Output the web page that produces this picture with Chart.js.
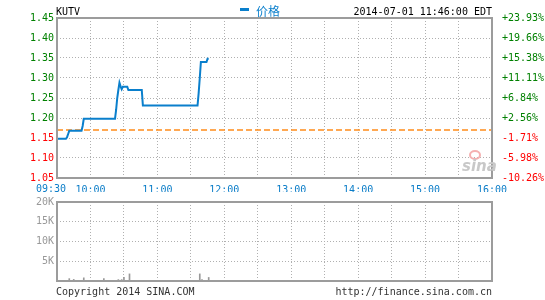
<!DOCTYPE html>
<html>
<head>
<meta charset="utf-8">
<script src="https://cdn.jsdelivr.net/npm/chart.js"></script>
<style>
  body { margin: 0; background: #fff; width: 545px; height: 300px; overflow: hidden; position: relative;
         font-family: "DejaVu Sans Mono", monospace; font-size: 10px; }
  canvas { position: absolute; left: 0; }
  .txt { position: absolute; white-space: nowrap; line-height: 12px; }
</style>
</head>
<body>
<canvas id="priceChart" width="545" height="192" style="top:0"></canvas>
<canvas id="volChart" width="545" height="100" style="top:190px"></canvas>

<div class="txt" style="left:56px;top:6px;color:#000">KUTV</div>
<div style="position:absolute;left:240px;top:8px;width:9px;height:3px;background:#0a7fcc"></div>
<div class="txt" style="left:256px;top:4px;color:#0a7fcc;font:12px 'Noto Sans CJK SC';line-height:14px">价格</div>
<div class="txt" style="right:53px;top:6px;color:#000">2014-07-01 11:46:00 EDT</div>
<div class="txt" style="left:36px;top:183px;color:#0b7dc8">09:30</div>
<div class="txt" style="left:56px;top:286px;color:#333">Copyright 2014 SINA.COM</div>
<div class="txt" style="right:53px;top:286px;color:#333">http://finance.sina.com.cn</div>
<div style="position:absolute;left:469px;top:150px;width:8px;height:6px;border-radius:50%;border:2px solid #f5b0b0"></div>
<div class="txt" style="left:462px;top:158px;color:#c8c8c8;font:italic bold 15px 'DejaVu Sans';line-height:16px">sina</div>

<script>
// minutes after 09:30 and price
const priceTimes = [0, 8, 9, 10, 11, 22, 23, 24, 52, 53, 54, 55, 56, 57, 58, 59, 63, 64, 76, 77, 126, 127, 128, 129, 134, 135, 136];
const priceValues = [1.148, 1.148, 1.152, 1.16, 1.168, 1.168, 1.18, 1.198, 1.198, 1.22, 1.25, 1.27, 1.288, 1.279, 1.272, 1.278, 1.278, 1.27, 1.27, 1.231, 1.231, 1.262, 1.30, 1.34, 1.34, 1.348, 1.348];
const prevClose = 1.17;

const volTimes = [0, 11, 15, 24, 42, 55, 58, 60, 65, 128, 130, 136];
const volValues = [11000, 600, 400, 800, 600, 350, 350, 900, 1800, 1800, 350, 900];

const priceTicks = [1.05, 1.10, 1.15, 1.20, 1.25, 1.30, 1.35, 1.40, 1.45];
const priceLabels = ['1.05', '1.10', '1.15', '1.20', '1.25', '1.30', '1.35', '1.40', '1.45'];
const pctLabels = ['-10.26%', '-5.98%', '-1.71%', '+2.56%', '+6.84%', '+11.11%', '+15.38%', '+19.66%', '+23.93%'];
const timeTicks = [0, 30, 60, 90, 120, 150, 180, 210, 240, 270, 300, 330, 360, 390];
const timeLabels = ['', '10:00', '', '11:00', '', '12:00', '', '13:00', '', '14:00', '', '15:00', '', '16:00'];
const volTicks = [0, 5000, 10000, 15000, 20000];
const volLabels = ['', '5K', '10K', '15K', '20K'];

const mono = { family: 'DejaVu Sans Mono', size: 10 };
const gridOpts = { color: '#b0b0b0', lineWidth: 1, drawTicks: false, offset: false };
const borderOpts = { display: false, dash: [1, 2] };

const frame = {
    id: 'frame',
    afterDraw(chart) {
        const a = chart.chartArea, c = chart.ctx;
        c.save();
        c.strokeStyle = '#9c9c9c';
        c.lineWidth = 2;
        c.strokeRect(a.left, a.top, a.right - a.left, a.bottom - a.top);
        c.restore();
    }
};

const timeAxis = (showLabels, h) => ({
    type: 'linear', min: 0, max: 390, offset: false,
    afterBuildTicks: s => { s.ticks = timeTicks.map(v => ({ value: v })); },
    afterFit: s => { s.height = h; },
    grid: gridOpts, border: borderOpts,
    ticks: {
        display: showLabels, autoSkip: false, maxRotation: 0, padding: 6,
        color: '#0b7dc8', font: mono,
        callback: (v, i) => timeLabels[i]
    }
});

const upDown = ctx => ctx.tick && ctx.tick.value > prevClose ? '#008000' : '#ff0000';

new Chart(document.getElementById('priceChart'), {
    type: 'line',
    data: {
        datasets: [{
            data: priceTimes.map((t, i) => ({ x: t, y: priceValues[i] })),
            borderColor: '#0a7fcc', borderWidth: 2, pointRadius: 0, tension: 0, yAxisID: 'y'
        }, {
            data: [{ x: 0, y: prevClose }, { x: 390, y: prevClose }],
            borderColor: '#ff8c1a', borderWidth: 1.5, borderDash: [6, 3], pointRadius: 0, yAxisID: 'y'
        }]
    },
    options: {
        responsive: false, animation: false,
        layout: { padding: { top: 18, left: 0, right: 0, bottom: 0 } },
        plugins: { legend: { display: false }, tooltip: { enabled: false } },
        scales: {
            x: timeAxis(true, 14),
            y: {
                position: 'left', min: 1.05, max: 1.45,
                afterBuildTicks: s => { s.ticks = priceTicks.map(v => ({ value: v })); },
                afterFit: s => { s.width = 57; },
                grid: gridOpts, border: borderOpts,
                ticks: { padding: 3, font: mono, color: upDown, callback: (v, i) => priceLabels[i] }
            },
            y2: {
                position: 'right', min: 1.05, max: 1.45,
                afterBuildTicks: s => { s.ticks = priceTicks.map(v => ({ value: v })); },
                afterFit: s => { s.width = 53; },
                grid: { display: false }, border: { display: false },
                ticks: { padding: 2, font: mono, color: upDown, callback: (v, i) => pctLabels[i] }
            }
        }
    },
    plugins: [frame]
});

new Chart(document.getElementById('volChart'), {
    type: 'bar',
    data: {
        datasets: [{
            data: volTimes.map((t, i) => ({ x: t, y: volValues[i] })),
            backgroundColor: '#999', barThickness: 1
        }]
    },
    options: {
        responsive: false, animation: false,
        layout: { padding: { top: 12, left: 0, right: 53, bottom: 0 } },
        plugins: { legend: { display: false }, tooltip: { enabled: false } },
        scales: {
            x: timeAxis(false, 5),
            y: {
                min: 0, max: 20000,
                afterBuildTicks: s => { s.ticks = volTicks.map(v => ({ value: v })); },
                afterFit: s => { s.width = 57; },
                grid: gridOpts, border: borderOpts,
                ticks: { padding: 3, font: mono, color: '#999', callback: (v, i) => volLabels[i] }
            }
        }
    },
    plugins: [frame]
});
</script>
</body>
</html>
